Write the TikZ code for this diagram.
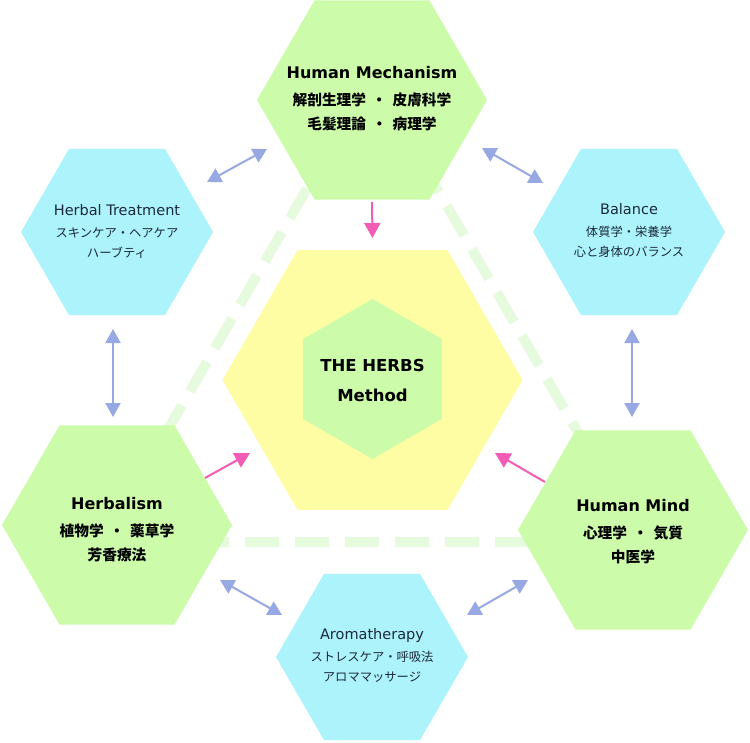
\documentclass[tikz,border=0pt]{standalone}
\usepackage{fontspec}
\setmainfont{DejaVu Sans}
\newfontfamily\jpfont{Noto Sans CJK JP}
\usetikzlibrary{shapes.geometric,arrows.meta,calc}
\definecolor{hexgreen}{HTML}{CCFCAA}
\definecolor{hexblue}{HTML}{ADF3FC}
\definecolor{hexyellow}{HTML}{FFFDA4}
\definecolor{dashgreen}{HTML}{E6FBDE}
\definecolor{arrowblue}{HTML}{97A8E2}
\definecolor{arrowpink}{HTML}{F25CB4}
\definecolor{navy}{HTML}{1B2A3A}
\newcommand{\jg}{\hspace{0.4em}}
\begin{document}
\begin{tikzpicture}[x=1pt,y=-1pt,
  hexbase/.style={regular polygon, regular polygon sides=6, inner sep=0pt, outer sep=0pt, draw=none},
  hexgreenbig/.style={hexbase, minimum size=230pt, fill=hexgreen},
  hexbluesmall/.style={hexbase, minimum size=192pt, fill=hexblue},
  hexcenter/.style={hexbase, minimum size=300pt, fill=hexyellow},
  hexinner/.style={hexbase, minimum size=160pt, fill=hexgreen, shape border rotate=30},
  greentext/.style={align=center, anchor=base, inner sep=0pt, text=black, font=\fontsize{14.7}{24}\selectfont\jpfont\bfseries},
  bluetext/.style={align=center, anchor=base, inner sep=0pt, text=navy, font=\fontsize{12.3}{20}\selectfont\jpfont},
  centertext/.style={align=center, anchor=base, inner sep=0pt, text=black, font=\fontsize{16.5}{30}\selectfont\bfseries},
  barrow/.style={draw=arrowblue, line width=2pt, {Triangle[length=14pt,width=15pt,fill=arrowblue]}-{Triangle[length=14pt,width=15pt,fill=arrowblue]}},
  parrow/.style={draw=arrowpink, line width=2pt, -{Triangle[length=15pt,width=16pt,fill=arrowpink]}},
  dashtri/.style={draw=dashgreen, line width=10pt, dash pattern=on 34pt off 16pt}
]
\useasboundingbox (0,0) rectangle (750,742);
\fill[white] (0,0) rectangle (750,742);

% dashed triangle behind the hexagons
\draw[dashtri] (372,76) -- (641,542) -- (103,542) -- cycle;

% hexagons
\node[hexgreenbig] (HM) at (372,100) {};
\node[hexgreenbig] (HB) at (117,525) {};
\node[hexgreenbig] (HMd) at (633,530) {};
\node[hexbluesmall] (HT) at (117,232) {};
\node[hexbluesmall] (BA) at (629,232) {};
\node[hexbluesmall] (AR) at (372,657) {};
\node[hexcenter] (CT) at (372.5,380) {};
\node[hexinner] (IN) at (372.5,379) {};

% texts (base anchor = baseline of the last line)
\node[greentext] (HMt) at ($(HM)+(0,29)$) {{\fontsize{16}{24}\selectfont\rmfamily Human Mechanism}\\[3pt]解剖生理学{\jg}・{\jg}皮膚科学\\毛髪理論{\jg}・{\jg}病理学};
\node[greentext] (HBt) at ($(HB)+(0,35)$) {{\fontsize{16}{24}\selectfont\rmfamily Herbalism}\\[3pt]植物学{\jg}・{\jg}薬草学\\芳香療法};
\node[greentext] (HMdt) at ($(HMd)+(0,32)$) {{\fontsize{16}{24}\selectfont\rmfamily Human Mind}\\[3pt]心理学{\jg}・{\jg}気質\\中医学};
\node[bluetext] (HTt) at ($(HT)+(0,25)$) {{\fontsize{14.5}{20}\selectfont\rmfamily Herbal Treatment}\\[2pt]スキンケア・ヘアケア\\ハーブティ};
\node[bluetext] (BAt) at ($(BA)+(0,24)$) {{\fontsize{14.5}{20}\selectfont\rmfamily Balance}\\[2pt]体質学・栄養学\\心と身体のバランス};
\node[bluetext] (ARt) at ($(AR)+(0,24)$) {{\fontsize{14.5}{20}\selectfont\rmfamily Aromatherapy}\\[2pt]ストレスケア・呼吸法\\アロママッサージ};
\node[centertext] (CTt) at ($(CT)+(0,21)$) {THE HERBS\\Method};

% blue double arrows
\draw[barrow] ($(HT)+(90,-50)$) -- ($(HM)+(-105,49)$);
\draw[barrow] ($(HM)+(110,48)$) -- ($(BA)+(-86,-49)$);
\draw[barrow] ($(HT)+(-4,97)$) -- ($(HB)+(-4,-108)$);
\draw[barrow] ($(BA)+(3,97)$) -- ($(HMd)+(-1,-113)$);
\draw[barrow] ($(HB)+(103,55)$) -- ($(AR)+(-90,-42)$);
\draw[barrow] ($(HMd)+(-105,50)$) -- ($(AR)+(95,-42)$);

% pink arrows
\draw[parrow] ($(HM)+(0,102)$) -- ($(CT)+(0,-142)$);
\draw[parrow] ($(HB)+(88,-47)$) -- ($(CT)+(-122.5,73)$);
\draw[parrow] ($(HMd)+(-88,-48)$) -- ($(CT)+(122.5,73)$);
\end{tikzpicture}
\end{document}
